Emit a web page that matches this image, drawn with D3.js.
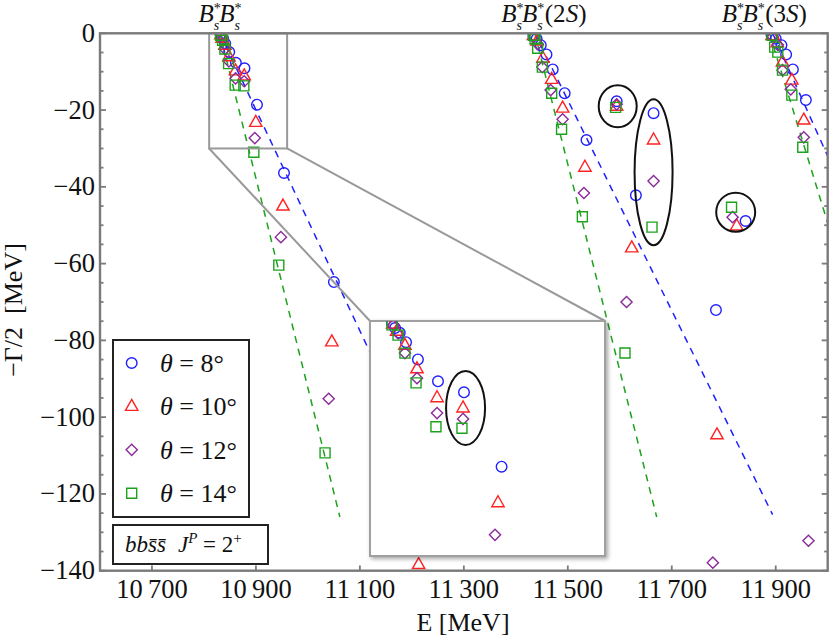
<!DOCTYPE html>
<html>
<head>
<meta charset="utf-8">
<script src="https://d3js.org/d3.v7.min.js"></script>
<style>
  body { margin: 0; background: white; }
  svg text { font-family: "Liberation Serif", "Times New Roman", serif; fill: #111; }
</style>
</head>
<body>
<script>
  // points: [E (MeV), -Gamma/2 (MeV)]
  const theta8 = [
    [10832,-0.3],[10834,-0.9],[10837,-1.5],[10841,-2.7],[10848.6,-4.9],[10861.4,-7.7],[10878,-9.1],[10902,-18.6],[10954,-36.4],[11050,-64.8],
    [11434,-0.5],[11440,-1.4],[11448,-3.1],[11459,-5.5],[11471,-9.4],[11494,-15.6],[11536,-27.8],[11594,-17.7],[11665,-20.8],[11631,-42.2],[11785,-72.1],
    [11892,-0.5],[11900,-1.4],[11911,-3.1],[11920,-5.5],[11933,-9.4],[11958,-17.4],[11842,-48.9]
  ];
  const theta10 = [
    [10832.5,-0.4],[10835,-1.3],[10840.3,-3.1],[10848,-6.1],[10860.8,-9.8],[10877.4,-11.1],[10899.7,-23.2],[10952,-45.0],[11046,-80.4],[11213,-138.4],
    [11434,-0.6],[11441,-2.0],[11452,-6.5],[11469,-12.0],[11490,-19.5],[11533,-34.9],[11594,-19.0],[11665,-27.8],[11623,-55.9],[11787,-104.6],
    [11893,-0.6],[11903,-2.5],[11913,-7.5],[11931,-12.2],[11954,-22.6],[11825,-50.2]
  ];
  const theta12 = [
    [10833,-0.5],[10836,-1.6],[10840.3,-4.1],[10848,-7.3],[10860.8,-11.75],[10877.4,-12.5],[10897.8,-27.3],[10948,-53.1],[11040,-95.2],
    [11435,-0.8],[11442,-2.8],[11451,-8.8],[11467,-14.8],[11490,-22.4],[11531,-41.6],[11594,-18.5],[11665,-38.5],[11613,-70.0],[11779,-137.9],
    [11894,-0.8],[11904,-3.0],[11913,-9.6],[11929,-14.6],[11954,-27.1],[11817,-47.9],[11963,-132.2]
  ];
  const theta14 = [
    [10832,-0.5],[10835.9,-1.8],[10840.3,-4.1],[10847.4,-7.9],[10860.1,-13.5],[10876.7,-13.7],[10896,-31],[10944,-60.4],[11033,-109.3],
    [11434,-0.5],[11437,-1.5],[11442,-3.9],[11451,-8.8],[11469,-15.6],[11488,-25.0],[11592,-19.3],[11528,-47.8],[11662,-50.5],[11610,-83.3],
    [11893,-0.5],[11898,-3.6],[11904,-4.9],[11913,-9.6],[11931,-16.1],[11952,-29.7],[11815,-45.3]
  ];

  // rotated continuum guides (start, end)
  const blueLines = [
    [[10830.8,0],[11265,-125]],
    [[11436.5,0],[11894,-125.4]],
    [[11894,0],[12000,-32]]
  ];
  const greenLines = [
    [[10830.8,0],[11061.5,-126]],
    [[11436.5,0],[11671,-126]],
    [[11888,0],[12000,-49.4]]
  ];

  const thresholds = [10831, 11454, 11878];
  const excitation = ["", "2", "3"];
  const legendLabels = ["8", "10", "12", "14"];
  const eTicks = [10700, 10900, 11100, 11300, 11500, 11700, 11900];
  const gTicks = [0, -20, -40, -60, -80, -100, -120, -140];

  // encircled resonances: [E, G] centre, radii in px
  const rings = [[11596,-19.0], [11665,-36.2], [11823,-46.6]];
  const ringRadii = [[19,21], [19,73], [19.5,19.5]];
  const insetRing = [10879,-11.1];

  const W = 830, H = 637;
  const svg = d3.select("body").append("svg").attr("width", W).attr("height", H);

  const x = d3.scaleLinear().domain([10600, 12000]).range([100, 827.7]);
  const y = d3.scaleLinear().domain([0, -140]).range([33.3, 570.7]);

  // inset magnifies the little box near the first threshold
  const boxE = [10810, 10960], boxG = [0, -30];
  const xi = d3.scaleLinear().domain([10818, 10968]).range([370, 605]);
  const yi = d3.scaleLinear().domain([0, -30]).range([321, 556]);

  const series = [
    {data: theta8, color: "#1f1fff", shape: "circle"},
    {data: theta10, color: "#ff2222", shape: "triangle"},
    {data: theta12, color: "#8b2a9b", shape: "diamond"},
    {data: theta14, color: "#1ca21c", shape: "square"}
  ];

  function shapePath(s) {
    if (s === "circle") return d3.symbol(d3.symbolCircle, Math.PI * 5.3 * 5.3)();
    if (s === "triangle") return "M0,-7L6.2,4L-6.2,4Z";
    if (s === "diamond") return "M0,-5.6L5.6,0L0,5.6L-5.6,0Z";
    return "M-5,-5H5V5H-5Z";
  }

  const defs = svg.append("defs");
  defs.append("clipPath").attr("id", "plot")
    .append("rect").attr("x", 100).attr("y", 33).attr("width", 728).attr("height", 538);
  defs.append("clipPath").attr("id", "insetClip")
    .append("rect").attr("x", 370).attr("y", 321).attr("width", 235).attr("height", 235);
  const sh = defs.append("filter").attr("id", "shadow").attr("x", "-10%").attr("y", "-10%").attr("width", "120%").attr("height", "120%");
  sh.append("feDropShadow").attr("dx", 2).attr("dy", 2).attr("stdDeviation", 2)
    .attr("flood-color", "#000").attr("flood-opacity", 0.35);

  const plot = svg.append("g").attr("clip-path", "url(#plot)");

  // dashed guides
  const line = d3.line().x(d => x(d[0])).y(d => y(d[1]));
  plot.selectAll(".bl").data(blueLines).join("path")
    .attr("d", line).attr("fill", "none").attr("stroke", "#1f1fff")
    .attr("stroke-width", 1.5).attr("stroke-dasharray", "7,6");
  plot.selectAll(".gl").data(greenLines).join("path")
    .attr("d", line).attr("fill", "none").attr("stroke", "#1ca21c")
    .attr("stroke-width", 1.5).attr("stroke-dasharray", "7,6");

  function drawPoints(g, xs, ys) {
    series.forEach(s => {
      g.append("g").selectAll("path").data(s.data).join("path")
        .attr("d", shapePath(s.shape))
        .attr("transform", d => `translate(${xs(d[0])},${ys(d[1])})`)
        .attr("fill", "none").attr("stroke", s.color).attr("stroke-width", 1.4);
    });
  }
  drawPoints(plot, x, y);

  // zoom box and connectors
  svg.append("rect")
    .attr("x", x(boxE[0])).attr("y", y(boxG[0]))
    .attr("width", x(boxE[1]) - x(boxE[0])).attr("height", y(boxG[1]) - y(boxG[0]))
    .attr("fill", "none").attr("stroke", "#999").attr("stroke-width", 2);
  svg.append("line").attr("x1", x(boxE[0])).attr("y1", y(boxG[1]))
    .attr("x2", xi.range()[0]).attr("y2", yi.range()[0])
    .attr("stroke", "#999").attr("stroke-width", 2);
  svg.append("line").attr("x1", x(boxE[1])).attr("y1", y(boxG[1]))
    .attr("x2", xi.range()[1]).attr("y2", yi.range()[0])
    .attr("stroke", "#999").attr("stroke-width", 2);

  // inset
  svg.append("rect").attr("x", 370).attr("y", 321).attr("width", 235).attr("height", 235)
    .attr("fill", "white").attr("stroke", "#a0a0a0").attr("stroke-width", 2)
    .attr("filter", "url(#shadow)");
  const inset = svg.append("g").attr("clip-path", "url(#insetClip)");
  drawPoints(inset, xi, yi);
  svg.append("ellipse").attr("cx", xi(insetRing[0])).attr("cy", yi(insetRing[1]))
    .attr("rx", 19.5).attr("ry", 37)
    .attr("fill", "none").attr("stroke", "#111").attr("stroke-width", 2);

  // rings around resonances
  svg.selectAll(".ring").data(rings).join("ellipse")
    .attr("cx", d => x(d[0])).attr("cy", d => y(d[1]))
    .attr("rx", (d, i) => ringRadii[i][0]).attr("ry", (d, i) => ringRadii[i][1])
    .attr("fill", "none").attr("stroke", "#111").attr("stroke-width", 2);

  // frame
  const frameColor = "#7a7a7a";
  svg.append("rect").attr("x", 100).attr("y", 33.3).attr("width", 727.7).attr("height", 537.4)
    .attr("fill", "none").attr("stroke", frameColor).attr("stroke-width", 2.4);

  // left and right ticks
  const gMinor = d3.range(0, -141, -5);
  gMinor.forEach(v => {
    const major = v % 20 === 0;
    const len = major ? 6 : 3.5;
    svg.append("line").attr("x1", 100).attr("x2", 100 + len).attr("y1", y(v)).attr("y2", y(v))
      .attr("stroke", frameColor).attr("stroke-width", 1.8);
    svg.append("line").attr("x1", 827.7).attr("x2", 827.7 - len).attr("y1", y(v)).attr("y2", y(v))
      .attr("stroke", frameColor).attr("stroke-width", 1.8);
  });
  svg.selectAll(".gl-lab").data(gTicks).join("text")
    .attr("x", 95).attr("y", d => y(d) + 8.5)
    .attr("text-anchor", "end").attr("font-size", 26.5)
    .text(d => d === 0 ? "0" : "\u2212" + Math.abs(d));

  // bottom ticks
  eTicks.forEach(v => {
    svg.append("line").attr("x1", x(v)).attr("x2", x(v)).attr("y1", 570.7).attr("y2", 565.5)
      .attr("stroke", frameColor).attr("stroke-width", 1.8);
  });
  svg.selectAll(".el-lab").data(eTicks).join("text")
    .attr("x", d => x(d)).attr("y", 598)
    .attr("text-anchor", "middle").attr("font-size", 26.5)
    .text(d => String(d).slice(0, 2) + "\u2009" + String(d).slice(2));

  // axis titles
  svg.append("text").attr("x", 463).attr("y", 631).attr("text-anchor", "middle")
    .attr("font-size", 26).text("E [MeV]");
  svg.append("text").attr("transform", "translate(22,310) rotate(-90)")
    .attr("text-anchor", "middle").attr("font-size", 26)
    .text("\u2212\u0393/2\u2002[MeV]");

  // threshold labels on top: B*_s B*_s (nS)
  thresholds.forEach((e, i) => {
    const t = svg.append("text").attr("x", x(e)).attr("y", 22)
      .attr("text-anchor", "middle").attr("font-size", 25);
    for (let k = 0; k < 2; k++) {
      t.append("tspan").attr("font-style", "italic").attr("dy", k ? -8 : 0).text("B");
      t.append("tspan").attr("font-size", 14).attr("dy", -9).text("*");
      t.append("tspan").attr("font-size", 14).attr("font-style", "italic")
        .attr("dx", -7).attr("dy", 17).text("s");
    }
    if (excitation[i]) {
      t.append("tspan").attr("dx", 2).attr("dy", -8).text("(" + excitation[i]);
      t.append("tspan").attr("font-style", "italic").text("S");
      t.append("tspan").text(")");
    }
  });

  // legend
  svg.append("rect").attr("x", 113).attr("y", 340).attr("width", 136).attr("height", 177)
    .attr("fill", "white").attr("stroke", "#222").attr("stroke-width", 2);
  series.forEach((s, i) => {
    const cy = 363 + i * 43.4;
    svg.append("path").attr("d", shapePath(s.shape))
      .attr("transform", `translate(131.7,${cy})`)
      .attr("fill", "none").attr("stroke", s.color).attr("stroke-width", 1.4);
    const t = svg.append("text").attr("x", 160).attr("y", cy + 9).attr("font-size", 26);
    t.append("tspan").attr("font-style", "italic").text("\u03b8");
    t.append("tspan").text(" = " + legendLabels[i] + "\u00b0");
  });

  svg.append("rect").attr("x", 113).attr("y", 525).attr("width", 155).attr("height", 39)
    .attr("fill", "white").attr("stroke", "#222").attr("stroke-width", 2);
  const q = svg.append("text").attr("x", 125).attr("y", 552).attr("font-size", 23);
  q.append("tspan").attr("font-style", "italic").text("bbs\u0304s\u0304");
  q.append("tspan").attr("font-style", "italic").attr("dx", 12).text("J");
  q.append("tspan").attr("font-style", "italic").attr("font-size", 15).attr("dy", -9).text("P");
  q.append("tspan").attr("dy", 9).text(" = 2");
  q.append("tspan").attr("font-size", 15).attr("dy", -9).text("+");
</script>
</body>
</html>
